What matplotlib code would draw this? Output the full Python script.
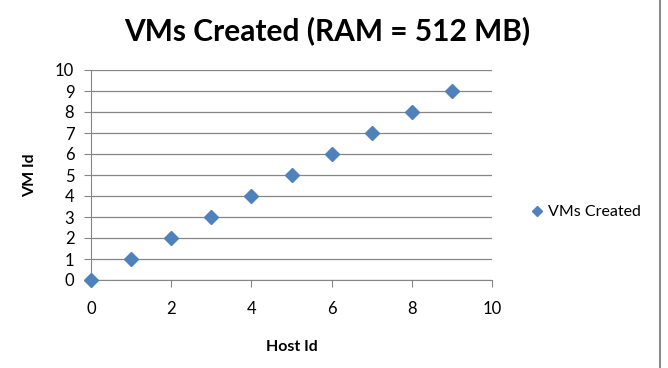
import matplotlib
matplotlib.use("Agg")
from matplotlib import pyplot as plt
from matplotlib.lines import Line2D

# data
host_id = [0, 1, 2, 3, 4, 5, 6, 7, 8, 9]
vm_id = [0, 1, 2, 3, 4, 5, 6, 7, 8, 9]
x_ticks = [0, 2, 4, 6, 8, 10]
y_ticks = list(range(0, 11))

plt.rcParams['font.family'] = ['Lato', 'DejaVu Sans']

W, H = 668, 368
fig = plt.figure(figsize=(W / 100, H / 100), dpi=100)
ax = fig.add_axes([91 / W, 1 - 280 / H, (492 - 91) / W, (280 - 70) / H])

blue = '#4F81BD'
grey = '#868686'
ax.plot(host_id, vm_id, 'D', color=blue, markersize=6.8, linestyle='none',
        label='VMs Created', clip_on=False, zorder=3)

ax.set_xlim(0, 10)
ax.set_ylim(0, 10)
ax.set_xticks(x_ticks)
ax.set_yticks(y_ticks)
ax.grid(axis='y', color=grey, linewidth=0.9)
ax.set_axisbelow(True)
for side in ['top', 'right']:
    ax.spines[side].set_visible(False)
for side in ['left', 'bottom']:
    ax.spines[side].set_color(grey)
ax.tick_params(axis='both', colors=grey, length=5, labelsize=12, labelcolor='black')
ax.tick_params(axis='x', pad=10)
ax.tick_params(axis='y', pad=7)

ax.set_xlabel('Host Id', fontsize=11.5, fontweight='bold', labelpad=17)
ax.set_ylabel('VM Id', fontsize=11.5, fontweight='bold', labelpad=13)
fig.text(327.5 / W, 1 - 31 / H, 'VMs Created (RAM = 512 MB)', fontsize=21.5,
         fontweight='bold', ha='center', va='center')

handle = Line2D([], [], marker='D', color=blue, linestyle='none', markersize=5.2)
fig.legend([handle], ['VMs Created'], loc='center left',
           bbox_to_anchor=(513 / W, 1 - 212 / H), frameon=False,
           fontsize=11.5, handletextpad=0.1, handlelength=1.2)

# outer frame line on the right side
fig.add_artist(Line2D([660 / W, 660 / W], [0, 1], color='#8c8c8c', linewidth=1.5,
                      transform=fig.transFigure))

fig.savefig('out.png', dpi=100)
